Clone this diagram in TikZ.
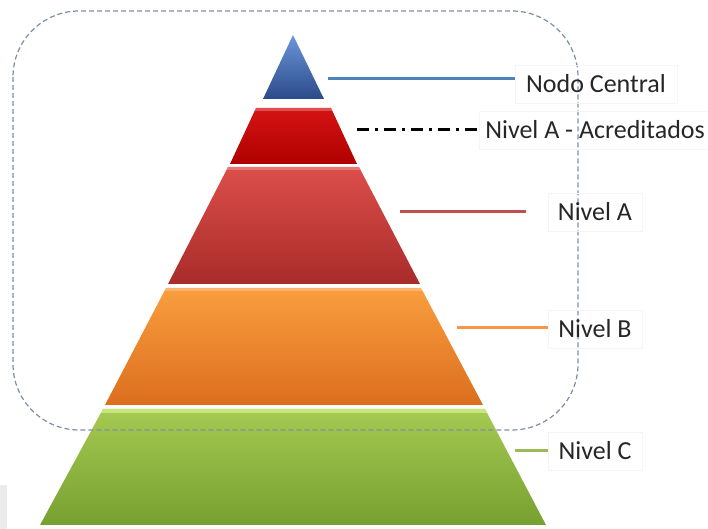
\documentclass[tikz,border=0pt]{standalone}
\usepackage{fontspec}
\setmainfont{Carlito}
\usepackage{tikz}
\usetikzlibrary{positioning,calc}

\definecolor{ncTop}{HTML}{6A96DA}
\definecolor{ncBot}{HTML}{2C4A8A}
\definecolor{accTop}{HTML}{D41414}
\definecolor{accBot}{HTML}{B00000}
\definecolor{aTop}{HTML}{DC4E4A}
\definecolor{aBot}{HTML}{A82C2A}
\definecolor{bTop}{HTML}{F99E3E}
\definecolor{bBot}{HTML}{DC6E1E}
\definecolor{cTop}{HTML}{A6CA52}
\definecolor{cBot}{HTML}{76A030}
\definecolor{cShine}{HTML}{D4EC8C}
\definecolor{frame}{HTML}{7F8EA6}
\definecolor{lineblue}{HTML}{4F81BD}
\definecolor{linered}{HTML}{C0504D}
\definecolor{lineorange}{HTML}{F79646}
\definecolor{linegreen}{HTML}{9BBB59}

\begin{document}
\begin{tikzpicture}[x=0.5pt,y=-0.5pt,
  lbl/.style={draw=black!4, text=black!85, font=\fontsize{13}{15}\selectfont,
    minimum height=19pt, minimum width=47pt, inner xsep=3pt},
  conn/.style={line width=1.5pt}]
\useasboundingbox (0,0) rectangle (708,529);

% Pyramid layers
\shade[top color=ncTop,bottom color=ncBot] (293,35) -- (324,99) -- (263,99) -- cycle;
\shade[top color=accTop,bottom color=accBot] (256,108) -- (331,108) -- (357,164) -- (230,164) -- cycle;
\shade[top color=aTop,bottom color=aBot] (228,167) -- (359,167) -- (420,284) -- (168,284) -- cycle;
\shade[top color=bTop,bottom color=bBot] (166,288) -- (421,288) -- (483,405) -- (105,405) -- cycle;
\shade[top color=cTop,bottom color=cBot] (103,409) -- (485,409) -- (546,525) -- (40,525) -- cycle;

% Highlights
\fill[white,opacity=0.25] (256,108) -- (331,108) -- (332.5,111) -- (254.5,111) -- cycle;
\fill[white,opacity=0.25] (228,167) -- (359,167) -- (360.5,170) -- (226.5,170) -- cycle;
\fill[white,opacity=0.25] (166,288) -- (421,288) -- (422.5,291) -- (164.5,291) -- cycle;
\fill[cShine,opacity=0.8] (103,409) -- (485,409) -- (487,413) -- (101,413) -- cycle;

% Frame
\draw[frame,line width=0.6pt,dash pattern=on 2.5pt off 1.5pt,rounded corners=33pt]
  (13,11) rectangle (578,430);

% Corner
\fill[black!8] (0,485) rectangle (7,529);

% Labels
\node[lbl,minimum width=81pt] (ncl) at (596,84) {Nodo Central};
\node[lbl] (accl) at (595,130) {Nivel A - Acreditados};
\node[lbl] (al) at (595,212) {Nivel A};
\node[lbl] (bl) at (595,329) {Nivel B};
\node[lbl] (cl) at (595,451) {Nivel C};

% Connectors
\coordinate (ncs) at (328,79);
\coordinate (accs) at (357,130);
\coordinate (as) at (400,212);
\coordinate (bs) at (457,328);
\coordinate (cs) at (515,451);
\draw[conn,lineblue] (ncs) -- (ncs -| ncl.west);
\draw[conn,black,dash pattern=on 6pt off 3pt on 1.5pt off 3pt] (accs) -- (accs -| accl.west);
\draw[conn,linered,shorten >=11pt] (as) -- (as -| al.west);
\draw[conn,lineorange] (bs) -- (bs -| bl.west);
\draw[conn,linegreen] (cs) -- (cs -| cl.west);
\end{tikzpicture}
\end{document}
